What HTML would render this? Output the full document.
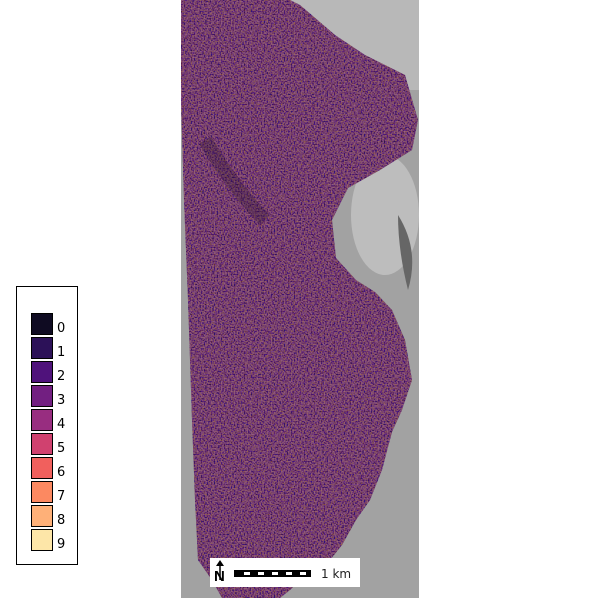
<!DOCTYPE html>
<html><head><meta charset="utf-8"><style>
body{margin:0;width:600px;height:600px;background:#fff;overflow:hidden;font-family:"DejaVu Sans","Liberation Sans",sans-serif}
</style></head><body>
<svg width="600" height="600">
<defs>
<filter id="nz" x="0" y="0" width="100%" height="100%">
<feTurbulence type="fractalNoise" baseFrequency="0.7" numOctaves="1" seed="3" result="t"/>
<feColorMatrix in="t" type="matrix" values="1.6 0 0 0 -0.5  0.9 0 0 0 -0.35  0 0.9 0 0 -0.2  0 0 0 0 1" result="c"/>
<feComposite in="c" in2="SourceGraphic" operator="in"/>
</filter>
</defs>
<rect x="181" y="0" width="238" height="598" fill="#a2a2a2"/>
<rect x="290" y="0" width="129" height="90" fill="#b8b8b8"/>
<ellipse cx="385" cy="215" rx="34" ry="60" fill="#bdbdbd"/>
<path d="M398 215 Q420 250 408 290 Q398 250 398 215Z" fill="#666"/>
<g>
<path d="M181 0 L290 0 L300 5 L335 35 L365 55 L405 75 L418 120 L412 150 L380 170 L348 188 L332 220 L336 258 L356 280 L375 292 L392 310 L405 340 L412 380 L402 410 L392 432 L382 470 L370 500 L356 520 L342 545 L330 560 L310 570 L290 590 L280 598 L222 598 L212 580 L198 560 L195 500 L192 420 L188 300 L184 200 L181 100 Z" fill="#5c2c55"/>
<path d="M181 0 L290 0 L300 5 L335 35 L365 55 L405 75 L418 120 L412 150 L380 170 L348 188 L332 220 L336 258 L356 280 L375 292 L392 310 L405 340 L412 380 L402 410 L392 432 L382 470 L370 500 L356 520 L342 545 L330 560 L310 570 L290 590 L280 598 L222 598 L212 580 L198 560 L195 500 L192 420 L188 300 L184 200 L181 100 Z" fill="#000" filter="url(#nz)" opacity="0.5"/>
<path d="M205 140 Q235 190 265 220" stroke="#2a1330" stroke-width="14" fill="none" opacity="0.3"/>
</g>
<g>
<rect x="210" y="558" width="150" height="29" fill="#fff"/>
<text x="214" y="581" font-size="15" font-weight="bold" font-family="Liberation Sans,sans-serif">N</text>
<line x1="220" y1="562" x2="220" y2="580" stroke="#000" stroke-width="1.5"/>
<path d="M216 566 L220 560 L224 566Z" fill="#000"/>
<rect x="234" y="570" width="77" height="7" fill="#000"/>
<g fill="#fff"><rect x="244" y="572" width="6" height="3"/><rect x="258" y="572" width="6" height="3"/><rect x="272" y="572" width="6" height="3"/><rect x="286" y="572" width="6" height="3"/><rect x="300" y="572" width="6" height="3"/></g>
<text x="321" y="578" font-size="12" fill="#222">1 km</text>
</g>
<g>
<rect x="16.5" y="286.5" width="61" height="278" fill="#fff" stroke="#000"/>
<g id="leg"></g>
</g>
</svg>
<script>
const labels=["0","1","2","3","4","5","6","7","8","9"];
const colors=["#0f0b22","#2c1158","#4f127b","#721f81","#982d80","#d0416f","#f1605d","#fc8961","#feb078","#fde6a8"];
const g=document.getElementById('leg');
const ns="http://www.w3.org/2000/svg";
labels.forEach((l,i)=>{
 const r=document.createElementNS(ns,'rect');
 r.setAttribute('x',31.5);r.setAttribute('y',313.5+i*24);r.setAttribute('width',21);r.setAttribute('height',21);
 r.setAttribute('fill',colors[i]);r.setAttribute('stroke','#000');
 
 
 g.appendChild(r);
 const t=document.createElementNS(ns,'text');
 t.setAttribute('x',57);t.setAttribute('y',332+i*24);t.setAttribute('font-size','13');
 t.textContent=l;
 
 
 g.appendChild(t);
});
</script>
</body></html>
